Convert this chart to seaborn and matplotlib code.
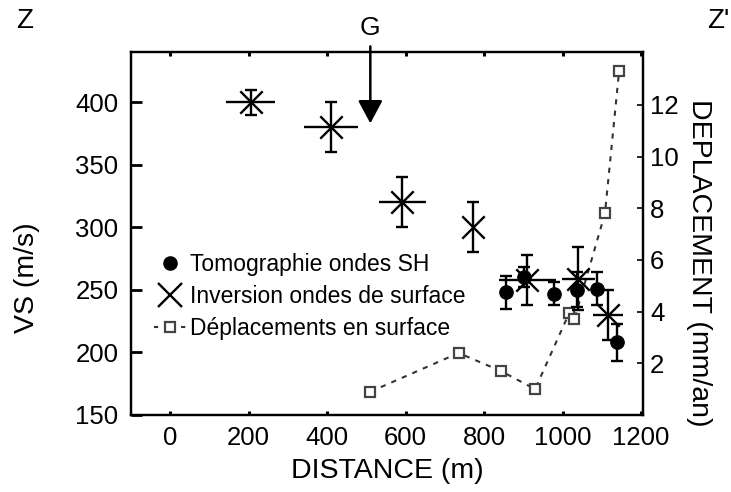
import matplotlib
matplotlib.use("Agg")
import matplotlib.pyplot as plt
from matplotlib.lines import Line2D
import seaborn as sns
import pandas as pd

# --- data ---
inv_x = [205, 410, 592, 772, 910, 1040, 1116]
inv_y = [400, 380, 320, 300, 258, 259, 230]
inv_yerr = [10, 20, 20, 20, 20, 25, 20]
inv_xerr = [62, 68, 60, 0, 72, 42, 38]

tomo_x = [855, 902, 978, 1036, 1087, 1138]
tomo_y = [248, 260, 247, 250, 251, 208]
tomo_yerr = [13, 8, 9, 14, 13, 15]

dep_x = [510, 735, 843, 930, 1017, 1030, 1108, 1144]
dep_y = [0.9, 2.4, 1.7, 1.0, 3.95, 3.7, 7.8, 13.3]

xticks = [0, 200, 400, 600, 800, 1000, 1200]
yticks_left = [150, 200, 250, 300, 350, 400]
yticks_right = [2, 4, 6, 8, 10, 12]

labels = ["Tomographie ondes SH", "Inversion ondes de surface", "Déplacements en surface"]

sns.set_theme(style="ticks")
plt.rcParams['font.family'] = ['Liberation Sans', 'DejaVu Sans']
plt.rcParams.update({"text.color": "black", "axes.labelcolor": "black",
                     "xtick.color": "black", "ytick.color": "black",
                     "axes.edgecolor": "black"})

fig = plt.figure(figsize=(7.31, 4.92), dpi=100)
ax = fig.add_axes([131/731, 77/492, 512/731, 363/492])
ax2 = ax.twinx()

# right axis: displacement
dep_df = pd.DataFrame({"x": dep_x, "y": dep_y})
sns.lineplot(data=dep_df, x="x", y="y", ax=ax2, color="#333333", lw=1.5,
             linestyle=(0, (2.5, 3)), marker="s", markersize=6.5,
             markerfacecolor="white", markeredgecolor="#444444",
             markeredgewidth=1.6, sort=False, legend=False)
ax2.set_ylim(0, 14.05)
ax2.set_yticks(yticks_right)
ax2.set_ylabel("")
ax2.tick_params(axis="y", direction="in", length=4, width=1.2, labelsize=18.5, pad=5,
                colors="black")

# left axis: errorbars (horizontal without caps, vertical with caps)
ax.errorbar(inv_x, inv_y, xerr=inv_xerr, fmt="none",
            ecolor="black", elinewidth=1.7, capsize=0, zorder=3)
ax.errorbar(inv_x, inv_y, yerr=inv_yerr, fmt="none",
            ecolor="black", elinewidth=1.7, capsize=4.5, capthick=1.7, zorder=3)
ax.errorbar(tomo_x, tomo_y, yerr=tomo_yerr, fmt="none",
            ecolor="black", elinewidth=1.7, capsize=4, capthick=1.7, zorder=3)

inv_df = pd.DataFrame({"x": inv_x, "y": inv_y})
tomo_df = pd.DataFrame({"x": tomo_x, "y": tomo_y})
sns.scatterplot(data=inv_df, x="x", y="y", ax=ax, marker="x", s=260,
                color="black", linewidth=1.7, zorder=4, legend=False)
sns.scatterplot(data=tomo_df, x="x", y="y", ax=ax, marker="o", s=95,
                color="black", edgecolor="black", zorder=5, legend=False)

ax.set_xlim(-100, 1205)
ax.set_ylim(150, 440)
ax.set_xticks(xticks)
ax.set_yticks(yticks_left)
ax.tick_params(axis="y", direction="in", length=8, width=2, labelsize=18.5, pad=9,
               colors="black")
ax.tick_params(axis="x", direction="in", length=3, width=2.2, labelsize=18.5, pad=8,
               top=True, colors="black")
ax.set_xlabel("DISTANCE (m)", fontsize=20.5, labelpad=6, color="black")
ax.set_ylabel("VS (m/s)", fontsize=20.5, color="black")
ax.yaxis.set_label_coords(-0.178, 0.377)
ax2.set_ylabel("DEPLACEMENT (mm/an)", fontsize=20.5, rotation=-90, va="center",
               color="black")
ax2.yaxis.set_label_coords(1.109, 0.42)

for a in (ax, ax2):
    for s in a.spines.values():
        s.set_linewidth(1.6)
        s.set_color("black")

ax.set_zorder(ax2.get_zorder() + 1)
ax.patch.set_visible(False)

# G arrow
ax.annotate("", xy=(510, 383), xytext=(510, 444.5), xycoords="data",
            textcoords="data", annotation_clip=False,
            arrowprops=dict(arrowstyle="-|>,head_length=1.4,head_width=0.75",
                            lw=1.8, color="black", shrinkA=0, shrinkB=0,
                            mutation_scale=10))
ax.text(510, 459, "G", ha="center", va="center", fontsize=19, clip_on=False,
        color="black")

fig.text(25/731, 1 - 21/492, "Z", ha="center", va="center", fontsize=20, color="black")
fig.text(707/731, 1 - 21/492, "Z'", ha="left", va="center", fontsize=20, color="black")

# legend
handles = [
    Line2D([], [], linestyle="none", marker="o", color="black", markersize=9.5),
    Line2D([], [], linestyle="none", marker="x", color="black", markersize=17,
           markeredgewidth=1.7),
    Line2D([], [], linestyle=(0, (2, 4.5)), color="#333333", lw=1.5, marker="s",
           markersize=6.5, markerfacecolor="white", markeredgecolor="#444444",
           markeredgewidth=1.6),
]
leg = ax.legend(handles, labels, loc="upper left", bbox_to_anchor=(0.045, 0.445),
                frameon=False, fontsize=16.5, handlelength=1.4, handletextpad=0.15,
                labelspacing=0.38, borderaxespad=0, borderpad=0)
for t in leg.get_texts():
    t.set_color("black")

fig.savefig("out.png", dpi=100)
